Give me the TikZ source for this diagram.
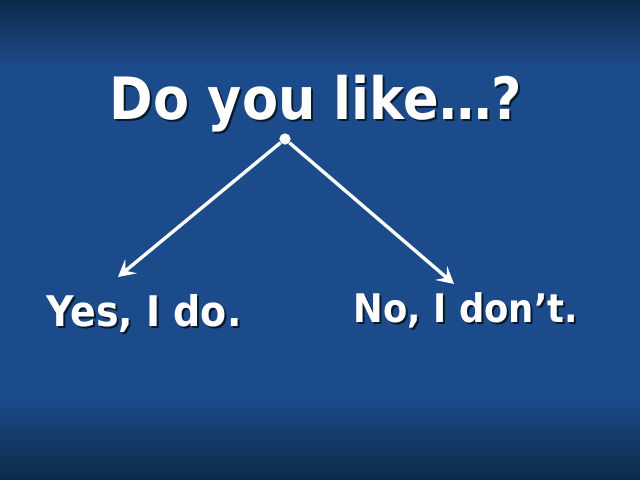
\documentclass[tikz,border=0pt]{standalone}
\usepackage{fontspec}
\setmainfont{DejaVu Sans}[FakeStretch=0.9]
\usetikzlibrary{positioning}
\usetikzlibrary {arrows.meta}
\definecolor{slideblue}{HTML}{1C4B8B}
\definecolor{slidedark}{HTML}{0C2A4A}
\definecolor{textshadow}{HTML}{0A1A2E}
\tikzset{question/.style={text=white,inner sep=0pt,
font=\bfseries\fontsize{41.5}{47}\selectfont}}
\tikzset{answer/.style={text=white,inner sep=0pt,
font=\bfseries\fontsize{28}{33}\selectfont}}
\tikzset{shadowtext/.style={text=textshadow}}
\tikzset{branch/.style={draw=white,line width=2.4pt,
-{Stealth[length=12pt,width=13pt,inset=5pt]}}}

\begin{document}
\begin{tikzpicture}[x=0.025cm,y=-0.025cm]

        % background
        \fill[slideblue] (0,0) rectangle (640,480);
        \shade[top color=slidedark,bottom color=slideblue] (0,0) rectangle (640,65);
        \shade[top color=slideblue,bottom color=slidedark] (0,395) rectangle (640,480);

        \node[question,shadowtext] (titleshadow) at (318,106) {Do you like…?};
        \node[question] (title) at (316,104) {Do you like…?};

        \node[answer,shadowtext,font=\bfseries\fontsize{30}{35}\selectfont] (yesshadow) at (146,315) {Yes, I do.};
        \node[answer,font=\bfseries\fontsize{30}{35}\selectfont] (yes) at (144,313) {Yes, I do.};
        \node[answer,shadowtext] (noshadow) at (468,312) {No, I don’t.};
        \node[answer] (no) at (466,310) {No, I don’t.};

        \node[circle,fill=white,inner sep=0pt,minimum size=8pt] (apex) at (285,139) {};
        \coordinate (yestip) at (118,277);
        \coordinate (notip) at (454,284);
        \draw[branch] (apex) -- (yestip);
        \draw[branch] (apex) -- (notip);

\end{tikzpicture}
\end{document}
